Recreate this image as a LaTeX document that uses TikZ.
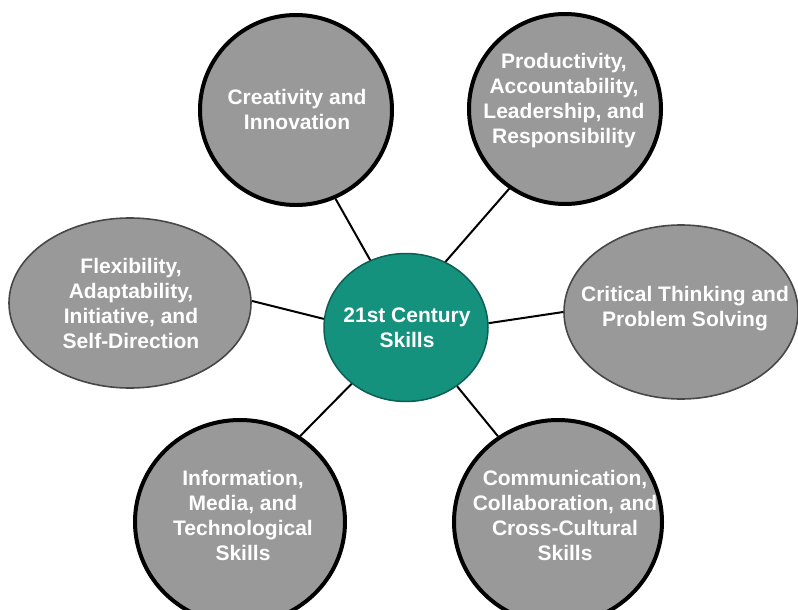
\documentclass[tikz,border=0pt]{standalone}
\usepackage{fontspec}
\setmainfont{Liberation Sans}
\usetikzlibrary{shapes.geometric}
\definecolor{hubteal}{RGB}{20,146,126}
\definecolor{bubblegray}{RGB}{153,153,153}
\begin{document}
\begin{tikzpicture}[x=1pt,y=-1pt,
  bubble/.style={ellipse, fill=bubblegray, inner sep=0pt},
  heavy/.style={bubble, draw=black, line width=4pt},
  light/.style={bubble, draw=black!72, line width=1.6pt},
  hub/.style={ellipse, fill=hubteal, draw=hubteal!65!black, line width=1.5pt, inner sep=0pt},
  caption/.style={text=white, font=\bfseries\fontsize{21}{25}\selectfont, align=center, inner sep=0pt},
  link/.style={draw=black, line width=2pt}]
\clip (0,0) rectangle (798,610);
\fill[white] (0,0) rectangle (798,610);

% bubbles
\node[hub,   minimum width=164pt, minimum height=148pt] (hub) at (406,327.5) {};
\node[heavy, minimum width=192pt, minimum height=190pt] (ct)  at (296,110) {};
\node[heavy, minimum width=192pt, minimum height=190pt] (pa)  at (565,109) {};
\node[light, minimum width=242pt, minimum height=170pt] (fa)  at (130,303) {};
\node[light, minimum width=234pt, minimum height=174pt] (cp)  at (681,312) {};
\node[heavy, minimum width=210pt, minimum height=204pt] (im)  at (240,522) {};
\node[heavy, minimum width=208pt, minimum height=204pt] (cc)  at (558,522) {};

% spokes
\draw[link] (ct.-66.6) -- (hub.118);
\draw[link] (pa.235.5) -- (hub.59);
\draw[link] (fa.1)     -- (hub.174);
\draw[link] (cp.180)   -- (hub.3);
\draw[link] (im.55)    -- (hub.226);
\draw[link] (cc.125)   -- (hub.-49);

% captions
\node[caption] (hub-t) at (407,327.5) {21st Century\\Skills};
\node[caption] (ct-t)  at (297,109.5) {Creativity and\\Innovation};
\node[caption] (pa-t)  at (564,100.5) {Productivity,\\Accountability,\\Leadership, and\\Responsibility};
\node[caption] (fa-t)  at (131,303) {Flexibility,\\Adaptability,\\Initiative, and\\Self-Direction};
\node[caption] (cp-t)  at (685,308.5) {Critical Thinking and\\Problem Solving};
\node[caption] (im-t)  at (243,515.5) {Information,\\Media, and\\Technological\\Skills};
\node[caption] (cc-t)  at (565,515.5) {Communication,\\Collaboration, and\\Cross-Cultural\\Skills};
\end{tikzpicture}
\end{document}
